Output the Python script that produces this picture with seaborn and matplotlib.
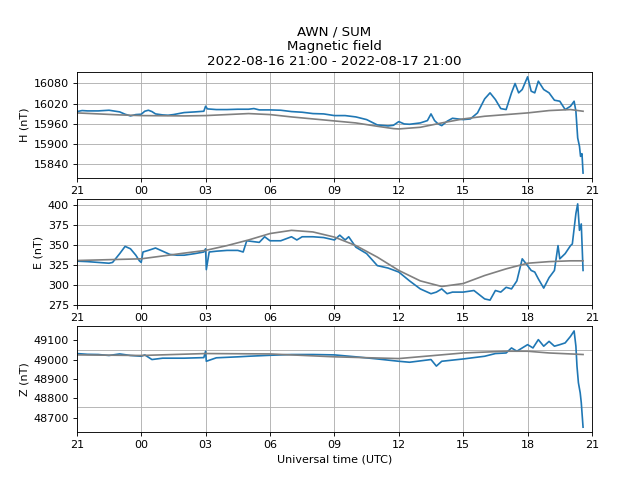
import pandas as pd
import seaborn as sns
import matplotlib.pyplot as plt
import matplotlib.dates as mdates

START = pd.Timestamp("2022-08-16 21:00")
END = pd.Timestamp("2022-08-17 21:00")

# minutes after 21:00 and values
h_min = [0, 15, 30, 60, 90, 120, 135, 150, 165, 180, 190, 200, 210, 220, 240, 255, 270, 300, 330, 355,
         360, 365, 390, 420, 450, 480, 495, 510, 540, 570, 600, 630, 660, 690, 720, 750, 780, 810, 840, 870,
         885, 900, 915, 930, 960, 980, 990, 1000, 1010, 1020, 1035, 1050, 1080, 1100, 1120, 1140, 1155, 1170, 1185, 1200,
         1215, 1225, 1235, 1245, 1260, 1270, 1280, 1290, 1305, 1320, 1335, 1350, 1365, 1380, 1390, 1395, 1400, 1405, 1408, 1412,
         1415]
h_val = [15996, 15999, 15998, 15998, 16000, 15995, 15988, 15983, 15987, 15988, 15997, 16000, 15996, 15989, 15986, 15985, 15987, 15993, 15995, 15997,
         16012, 16004, 16002, 16002, 16003, 16003, 16005, 16001, 16001, 16000, 15996, 15994, 15990, 15989, 15984, 15984, 15980, 15972, 15956, 15953,
         15955, 15966, 15959, 15958, 15962, 15969, 15989, 15969, 15959, 15954, 15967, 15976, 15972, 15974, 15992, 16034, 16052, 16032, 16005, 16002,
         16052, 16080, 16052, 16062, 16100, 16057, 16052, 16087, 16062, 16052, 16030, 16027, 16002, 16012, 16027, 15997, 15917, 15892, 15862, 15870,
         15812]
hb_min = [0, 120, 180, 300, 360, 420, 480, 540, 600, 660, 720, 780, 840, 885, 900, 960, 1020, 1080, 1140, 1200, 1260, 1320, 1380, 1415]
hb_val = [15992, 15986, 15984, 15983, 15984, 15987, 15990, 15987, 15980, 15974, 15968, 15962, 15952, 15945, 15944, 15949, 15962, 15974, 15982, 15987, 15992, 15999, 16002, 15997]

e_min = [0, 30, 60, 90, 100, 120, 135, 150, 165, 175, 180, 185, 200, 220, 240, 260, 280, 300, 330, 355,
         360, 362, 370, 390, 420, 450, 465, 475, 510, 525, 540, 570, 600, 615, 630, 660, 690, 720, 735, 750,
         760, 780, 810, 840, 870, 900, 930, 960, 990, 1005, 1020, 1035, 1050, 1080, 1110, 1140, 1155, 1170, 1185, 1200,
         1215, 1230, 1245, 1260, 1270, 1280, 1290, 1305, 1320, 1335, 1345, 1350, 1365, 1380, 1385, 1395, 1400, 1405, 1410, 1415]
e_val = [329.6, 329, 328, 327, 328, 339, 348, 345, 337, 330, 328, 341, 343, 346, 342, 338, 337, 337, 339, 341,
         345, 319, 341, 342, 343, 343, 341, 355, 353, 360, 355, 355, 360, 356, 360, 360, 359, 356, 362, 356,
         360, 347, 339, 324, 321, 316, 305, 295, 289, 291, 295, 289, 291, 291, 293, 282.5, 281, 293, 291, 297,
         295, 305, 332.5, 324, 318, 316, 307.5, 296, 309, 318, 349, 332.5, 339, 349, 351, 389, 401, 368, 376, 318]
eb_min = [0, 180, 300, 360, 420, 480, 540, 600, 660, 720, 780, 840, 900, 960, 1020, 1080, 1140, 1200, 1260, 1320, 1380, 1415]
eb_val = [330.4, 332.5, 339.6, 343, 349, 356, 364, 368, 366, 359.6, 349, 334.6, 318, 305, 298, 301.7, 311.7, 320, 327, 329, 330, 330]

z_min = [0, 30, 60, 90, 120, 150, 180, 190, 210, 240, 300, 355, 360, 362, 390, 450, 480, 540, 600, 660,
         720, 780, 840, 900, 930, 960, 990, 1005, 1020, 1050, 1080, 1140, 1170, 1200, 1215, 1230, 1260, 1275, 1290, 1305,
         1320, 1335, 1350, 1365, 1380, 1390, 1395, 1398, 1402, 1407, 1410, 1415]
z_val = [49031, 49027, 49026, 49021, 49029, 49021, 49017, 49024, 49000, 49007, 49007, 49010, 49043, 48991, 49009, 49014, 49017, 49022, 49026, 49026,
         49024, 49014, 49003, 48991, 48986, 48993, 49000, 48966, 48991, 48997, 49003, 49017, 49031, 49034, 49060, 49043, 49077, 49060, 49103, 49069,
         49094, 49069, 49077, 49086, 49120, 49148, 49069, 48966, 48880, 48828, 48777, 48650]
zb_min = [0, 180, 360, 540, 720, 900, 1080, 1200, 1260, 1320, 1415]
zb_val = [49024, 49021, 49031, 49029, 49014, 49005, 49034, 49043, 49043, 49034, 49026]

# odd horizontal grid in the Z panel (not on the tick values)
z_grid = [49048, 48900, 48756]


def frame(minutes, values):
    return pd.DataFrame({"time": START + pd.to_timedelta(minutes, unit="min"), "value": values})


panels = [
    ("H (nT)", frame(h_min, h_val), frame(hb_min, hb_val)),
    ("E (nT)", frame(e_min, e_val), frame(eb_min, eb_val)),
    ("Z (nT)", frame(z_min, z_val), frame(zb_min, zb_val)),
]

fig, axes = plt.subplots(3, 1, figsize=(8, 6), dpi=80)
fig.subplots_adjust(left=0.12, right=0.925, top=0.85, bottom=0.1, hspace=0.2)

for ax, (label, data, base) in zip(axes, panels):
    sns.lineplot(data=data, x="time", y="value", ax=ax, color="#1f77b4", linewidth=1.5, legend=False)
    sns.lineplot(data=base, x="time", y="value", ax=ax, color="gray", linewidth=1.5, legend=False)
    ax.set_xlim(START, END)
    ax.xaxis.set_major_locator(mdates.HourLocator(byhour=range(0, 24, 3)))
    ax.xaxis.set_major_formatter(mdates.DateFormatter("%H"))
    ax.set_ylabel(label)
    ax.set_xlabel("")
    ax.grid(True)

axes[0].set_yticks([15840, 15900, 15960, 16020, 16080])
axes[1].set_yticks([275, 300, 325, 350, 375, 400])
axes[2].set_yticks([48700, 48800, 48900, 49000, 49100])
axes[2].grid(False, axis="y")
axes[2].set_yticks(z_grid, minor=True)
axes[2].tick_params(axis="y", which="minor", length=0)
axes[2].grid(True, axis="y", which="minor")

axes[0].set_title("AWN / SUM\nMagnetic field\n2022-08-16 21:00 - 2022-08-17 21:00")
axes[2].set_xlabel("Universal time (UTC)")

fig.savefig("out.png", dpi=80)
